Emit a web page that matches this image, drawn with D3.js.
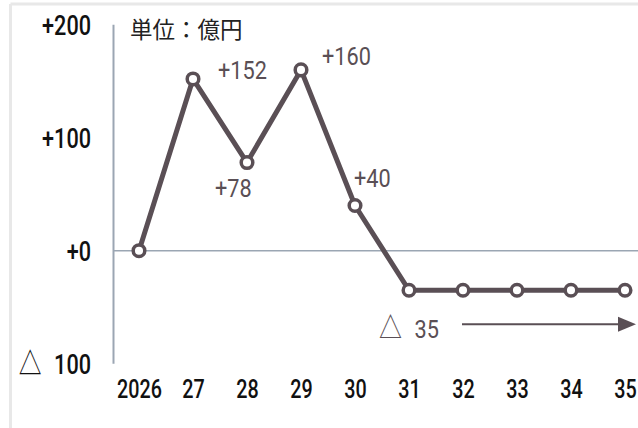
<!DOCTYPE html>
<html>
<head>
<meta charset="utf-8">
<script src="https://cdn.jsdelivr.net/npm/d3@7"></script>
<style>
  html, body { margin: 0; padding: 0; background: #fff; }
  svg { display: block; }
  .num { font-family: "Roboto", "Liberation Sans", sans-serif; }
  .tri { font-family: "Noto Sans CJK JP", sans-serif; }
</style>
</head>
<body>
<svg id="chart" width="638" height="428"></svg>
<script>
// Yearly change in profit (units: 100 million yen)
const years = ["2026", "27", "28", "29", "30", "31", "32", "33", "34", "35"];
const values = [0, 152, 78, 160, 40, -35, -35, -35, -35, -35];
const yTicks = [200, 100, 0, -100];
const yTickLabels = ["+200", "+100", "+0", "△ 100"];
const pointLabels = ["", "+152", "+78", "+160", "+40", "", "", "", "", ""];
const unitLabel = "単位：億円";
const tailLabel = "△ 35";

const lineColor = "#5a4f55";
const axisColor = "#9ba6b3";
const axisScaleX = 0.76;   // condensed look for axis numerals
const labelScaleX = 0.82;  // condensed look for value labels

const svg = d3.select("#chart");

// write a label, splitting a leading triangle into its own glyph run
function fillLabel(sel, str, triSize) {
  sel.text(null);
  if (str.startsWith("△")) {
    sel.append("tspan").attr("class", "tri").attr("font-size", triSize)
      .attr("font-weight", 400).text("△");
    sel.append("tspan").attr("dx", triSize * 0.55).text(str.slice(1).trim());
  } else {
    sel.text(str);
  }
}

// light frame along the top and left edges
svg.append("line").attr("x1", 10.5).attr("x2", 638).attr("y1", 4).attr("y2", 4)
  .attr("stroke", "#e8e8e8").attr("stroke-width", 3);
svg.append("line").attr("x1", 10.5).attr("x2", 10.5).attr("y1", 4).attr("y2", 428)
  .attr("stroke", "#e8e8e8").attr("stroke-width", 3);

const x = d3.scalePoint().domain(years).range([139, 625]);
const y = d3.scaleLinear().domain([-100, 200]).range([363.7, 24.7]);

// vertical axis line
svg.append("line")
  .attr("x1", 113.5).attr("x2", 113.5)
  .attr("y1", y(200)).attr("y2", y(-100))
  .attr("stroke", axisColor).attr("stroke-width", 2);

// zero baseline
svg.append("line")
  .attr("x1", 113.5).attr("x2", 638)
  .attr("y1", y(0)).attr("y2", y(0))
  .attr("stroke", axisColor).attr("stroke-width", 1.5);

// y tick labels
const yAxis = d3.axisLeft(y).tickValues(yTicks).tickSize(0).tickPadding(0)
  .tickFormat((d, i) => yTickLabels[i]);
const gy = svg.append("g").attr("transform", "translate(91,0)").call(yAxis);
gy.select(".domain").remove();
gy.selectAll("text")
  .attr("class", "num")
  .attr("font-size", 28.5)
  .attr("font-weight", 500)
  .attr("fill", "#111")
  .attr("dy", "0.36em")
  .attr("transform", `scale(${axisScaleX},1)`)
  .each(function(d, i) { fillLabel(d3.select(this), yTickLabels[i], 30); });

// x tick labels
const xAxis = d3.axisBottom(x).tickSize(0).tickPadding(0);
const gx = svg.append("g").attr("transform", "translate(0,389)").call(xAxis);
gx.select(".domain").remove();
gx.selectAll("text")
  .attr("class", "num")
  .attr("font-size", 26)
  .attr("font-weight", 500)
  .attr("fill", "#111")
  .attr("dy", "0.36em")
  .attr("transform", `scale(${axisScaleX},1)`);

// unit label
svg.append("text")
  .attr("x", 130).attr("y", 38)
  .attr("font-family", "'Noto Sans CJK JP', sans-serif")
  .attr("font-size", 22.5)
  .attr("fill", "#222")
  .text(unitLabel);

// series line
const line = d3.line().x((d, i) => x(years[i])).y(d => y(d));
svg.append("path")
  .datum(values)
  .attr("d", line)
  .attr("fill", "none")
  .attr("stroke", lineColor)
  .attr("stroke-width", 5)
  .attr("stroke-linejoin", "round");

// markers
svg.selectAll("circle.pt")
  .data(values)
  .join("circle")
  .attr("class", "pt")
  .attr("cx", (d, i) => x(years[i]))
  .attr("cy", d => y(d))
  .attr("r", 5.8)
  .attr("fill", "#fff")
  .attr("stroke", lineColor)
  .attr("stroke-width", 3.5);

// condensed free-standing text anchored at (px, py)
function condensedText(px, py, str, size, color, sx, triSize) {
  const t = svg.append("text")
    .attr("class", "num")
    .attr("transform", `translate(${px},${py}) scale(${sx},1)`)
    .attr("font-size", size)
    .attr("font-weight", 400)
    .attr("fill", color);
  fillLabel(t, str, triSize || size);
  return t;
}

// value labels, offset from each point
const labelOffsets = {
  1: { dx: 25, dy: 0 },
  2: { dx: -32, dy: 34 },
  3: { dx: 21, dy: -5 },
  4: { dx: -1, dy: -19 }
};
Object.keys(labelOffsets).forEach(k => {
  const i = +k, o = labelOffsets[k];
  condensedText(x(years[i]) + o.dx, y(values[i]) + o.dy, pointLabels[i], 26.5, lineColor, labelScaleX);
});

// flat tail: label and arrow
condensedText(x("31") - 30, y(values[5]) + 48, tailLabel, 26.5, lineColor, labelScaleX, 28);

const arrowY = y(values[5]) + 34;
svg.append("line")
  .attr("x1", 462).attr("x2", 620)
  .attr("y1", arrowY).attr("y2", arrowY)
  .attr("stroke", lineColor).attr("stroke-width", 2);
svg.append("path")
  .attr("d", `M618,${arrowY - 7.5} L636,${arrowY} L618,${arrowY + 7.5} Z`)
  .attr("fill", lineColor);
</script>
</body>
</html>
